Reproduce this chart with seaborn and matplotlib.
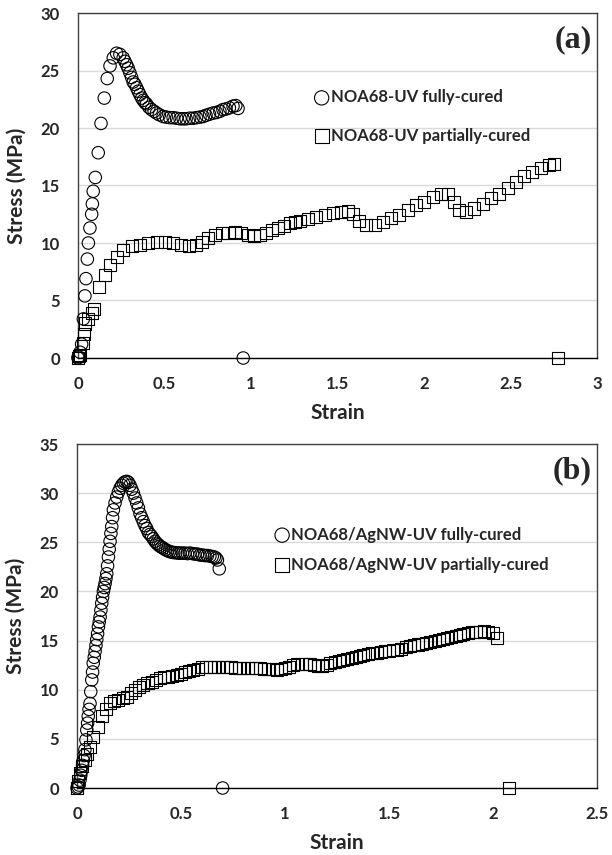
import numpy as np
import pandas as pd
import seaborn as sns
import matplotlib.pyplot as plt

# panel (a): NOA68-UV
a_full_strain = [0.0, 0.002, 0.012, 0.021, 0.031, 0.040, 0.046, 0.054, 0.060, 0.069, 0.079, 0.083,
                 0.088, 0.100, 0.117, 0.133, 0.152, 0.169, 0.185, 0.204, 0.223, 0.242, 0.261, 0.271,
                 0.281, 0.290, 0.300, 0.310, 0.319, 0.329, 0.339, 0.348, 0.358, 0.368, 0.377, 0.387,
                 0.396, 0.410, 0.425, 0.440, 0.454, 0.470, 0.492, 0.510, 0.530, 0.550, 0.570, 0.590,
                 0.608, 0.625, 0.645, 0.665, 0.685, 0.705, 0.723, 0.740, 0.760, 0.781, 0.800, 0.820,
                 0.838, 0.855, 0.875, 0.896, 0.912, 0.925, 0.955]
a_full_stress = [0.0, 0.1, 0.5, 1.2, 3.4, 5.4, 6.9, 8.6, 10.0, 11.3, 12.5, 13.4,
                 14.5, 15.7, 17.85, 20.4, 22.6, 24.3, 25.4, 26.1, 26.5, 26.4, 26.1, 25.8,
                 25.5, 25.2, 24.8, 24.4, 24.0, 23.8, 23.5, 23.2, 22.9, 22.6, 22.4, 22.2,
                 22.1, 21.8, 21.6, 21.45, 21.3, 21.15, 21.0, 20.95, 20.9, 20.9, 20.85, 20.8,
                 20.8, 20.8, 20.85, 20.85, 20.9, 20.95, 21.0, 21.1, 21.2, 21.3, 21.35, 21.45,
                 21.6, 21.65, 21.75, 21.9, 21.95, 21.7, 0.0]

a_part_strain = [0.0, 0.005, 0.012, 0.027, 0.035, 0.040, 0.060, 0.079, 0.092, 0.123, 0.156, 0.185,
                 0.223, 0.262, 0.310, 0.358, 0.406, 0.454, 0.502, 0.550, 0.598, 0.640, 0.680, 0.715,
                 0.750, 0.790, 0.830, 0.870, 0.910, 0.945, 0.980, 1.015, 1.050, 1.085, 1.120, 1.155,
                 1.190, 1.225, 1.255, 1.281, 1.330, 1.377, 1.425, 1.473, 1.520, 1.560, 1.589, 1.627,
                 1.666, 1.714, 1.762, 1.810, 1.858, 1.906, 1.954, 2.000, 2.050, 2.100, 2.137, 2.175,
                 2.204, 2.243, 2.290, 2.339, 2.387, 2.435, 2.483, 2.531, 2.579, 2.627, 2.675, 2.723,
                 2.750, 2.773]
a_part_stress = [0.0, 0.2, 0.3, 1.3, 2.1, 3.0, 3.4, 3.9, 4.3, 6.2, 7.2, 8.1,
                 8.8, 9.4, 9.7, 9.8, 10.0, 10.1, 10.05, 10.0, 9.8, 9.75, 9.85, 10.1,
                 10.4, 10.7, 10.85, 10.9, 10.95, 10.9, 10.7, 10.6, 10.7, 10.9, 11.1, 11.3,
                 11.5, 11.7, 11.8, 11.9, 12.1, 12.3, 12.45, 12.6, 12.7, 12.75, 12.5, 11.9,
                 11.6, 11.6, 11.85, 12.15, 12.4, 12.9, 13.3, 13.6, 14.0, 14.3, 14.3, 13.6,
                 12.9, 12.7, 13.0, 13.4, 13.9, 14.3, 14.75, 15.3, 15.8, 16.2, 16.5, 16.8,
                 16.9, 0.0]

# panel (b): NOA68/AgNW-UV
b_full_strain = [0.0, 0.006, 0.010, 0.014, 0.018, 0.023, 0.027, 0.030, 0.034, 0.038, 0.043, 0.047,
                 0.051, 0.054, 0.058, 0.0625, 0.066, 0.071, 0.075, 0.078, 0.083, 0.087, 0.091, 0.095,
                 0.099, 0.103, 0.107, 0.111, 0.115, 0.119, 0.123, 0.127, 0.131, 0.135, 0.139, 0.143,
                 0.147, 0.151, 0.155, 0.159, 0.163, 0.167, 0.171, 0.175, 0.183, 0.191, 0.199, 0.207,
                 0.215, 0.223, 0.231, 0.239, 0.247, 0.255, 0.263, 0.271, 0.279, 0.287, 0.295, 0.303,
                 0.311, 0.319, 0.327, 0.335, 0.343, 0.351, 0.359, 0.367, 0.375, 0.383, 0.391, 0.399,
                 0.407, 0.415, 0.425, 0.435, 0.445, 0.455, 0.465, 0.475, 0.485, 0.495, 0.507, 0.519,
                 0.531, 0.543, 0.555, 0.567, 0.579, 0.591, 0.603, 0.615, 0.627, 0.639, 0.650, 0.660,
                 0.668, 0.675, 0.684, 0.700]
b_full_stress = [0.0, 0.1, 0.3, 0.8, 1.3, 1.8, 2.3, 2.8, 3.3, 3.9, 4.9, 5.9,
                 6.6, 7.3, 8.0, 8.6, 9.8, 11.0, 11.8, 12.7, 13.3, 13.9, 14.5, 15.1,
                 15.7, 16.4, 16.9, 17.4, 18.1, 18.8, 19.4, 20.0, 20.4, 20.8, 21.3, 21.8,
                 22.6, 23.5, 24.3, 25.1, 25.9, 26.6, 27.5, 28.3, 29.0, 29.6, 30.1, 30.5,
                 30.8, 31.0, 31.15, 31.2, 31.1, 30.8, 30.4, 30.0, 29.5, 29.0, 28.5, 27.9,
                 27.5, 27.1, 26.7, 26.4, 26.0, 25.8, 25.6, 25.35, 25.1, 24.9, 24.75, 24.6,
                 24.5, 24.4, 24.25, 24.15, 24.05, 24.0, 23.95, 23.95, 23.9, 23.9, 23.9, 23.9,
                 23.85, 23.9, 23.85, 23.8, 23.8, 23.7, 23.7, 23.65, 23.65, 23.6, 23.55, 23.5,
                 23.4, 23.2, 22.3, 0.0]

b_part_strain = [0.0, 0.006, 0.014, 0.025, 0.038, 0.050, 0.0625, 0.078, 0.100, 0.119, 0.140, 0.159,
                 0.180, 0.199, 0.219, 0.239, 0.259, 0.279, 0.299, 0.319, 0.339, 0.359, 0.379, 0.399,
                 0.419, 0.439, 0.459, 0.479, 0.499, 0.519, 0.539, 0.559, 0.580, 0.600, 0.620, 0.640,
                 0.660, 0.680, 0.700, 0.720, 0.740, 0.760, 0.780, 0.800, 0.820, 0.840, 0.860, 0.880,
                 0.900, 0.920, 0.940, 0.960, 0.980, 1.000, 1.020, 1.040, 1.060, 1.080, 1.100, 1.120,
                 1.140, 1.160, 1.180, 1.200, 1.216, 1.240, 1.260, 1.280, 1.300, 1.320, 1.340, 1.360,
                 1.377, 1.400, 1.420, 1.440, 1.460, 1.480, 1.500, 1.520, 1.537, 1.560, 1.580, 1.600,
                 1.620, 1.640, 1.660, 1.680, 1.697, 1.720, 1.740, 1.760, 1.780, 1.800, 1.820, 1.840,
                 1.857, 1.880, 1.900, 1.920, 1.937, 1.957, 1.977, 1.998, 2.018, 2.075]
b_part_stress = [0.0, 0.7, 1.5, 2.2, 2.8, 3.5, 4.2, 5.2, 6.2, 7.3, 8.0, 8.6,
                 8.9, 9.0, 9.2, 9.3, 9.7, 10.0, 10.3, 10.5, 10.65, 10.8, 11.0, 11.2,
                 11.25, 11.3, 11.4, 11.5, 11.6, 11.8, 11.9, 12.0, 12.15, 12.3, 12.3, 12.3,
                 12.3, 12.3, 12.3, 12.3, 12.3, 12.25, 12.25, 12.2, 12.2, 12.2, 12.2, 12.2,
                 12.15, 12.15, 12.1, 12.0, 12.1, 12.2, 12.35, 12.5, 12.6, 12.65, 12.65, 12.6,
                 12.5, 12.45, 12.45, 12.55, 12.7, 12.85, 12.95, 13.05, 13.15, 13.25, 13.35, 13.45,
                 13.5, 13.6, 13.7, 13.75, 13.8, 13.9, 13.95, 14.0, 14.05, 14.15, 14.3, 14.4,
                 14.5, 14.6, 14.7, 14.8, 14.9, 15.0, 15.1, 15.2, 15.3, 15.4, 15.5, 15.6,
                 15.7, 15.8, 15.85, 15.9, 15.9, 15.95, 15.9, 15.8, 15.3, 0.0]

labels_a = ["NOA68-UV fully-cured", "NOA68-UV partially-cured"]
labels_b = ["NOA68/AgNW-UV fully-cured", "NOA68/AgNW-UV partially-cured"]

sns.set_style("white")
plt.rcParams['font.family'] = ['Lato', 'DejaVu Sans']

fig = plt.figure(figsize=(6.12, 8.55), dpi=100)
ax1 = fig.add_axes([78/612, 1-358/855, 519/612, 345/855])
ax2 = fig.add_axes([77/612, 1-788/855, 520/612, 344/855])


def draw_panel(ax, full_x, full_y, part_x, part_y, labels, xmax, ymax, xstep, tag, leg_pos, leg_space):
    df_full = pd.DataFrame({'Strain': full_x, 'Stress': full_y})
    df_part = pd.DataFrame({'Strain': part_x, 'Stress': part_y})
    sns.scatterplot(data=df_full, x='Strain', y='Stress', ax=ax, marker='o', s=80,
                    facecolor='none', edgecolor='black', linewidth=0.8, label=labels[0],
                    clip_on=False, zorder=3)
    sns.scatterplot(data=df_part, x='Strain', y='Stress', ax=ax, marker='s', s=75,
                    facecolor='none', edgecolor='black', linewidth=0.8, label=labels[1],
                    clip_on=False, zorder=3)
    ax.set_xlim(0, xmax)
    ax.set_ylim(0, ymax)
    ticks = np.arange(0, xmax + 0.01, xstep)
    ax.set_xticks(ticks)
    ax.set_yticks(np.arange(0, ymax + 0.1, 5))
    ax.set_xticklabels([f"{v:g}" for v in ticks])
    ax.yaxis.grid(True, color='#d9d9d9', linewidth=1)
    ax.set_axisbelow(True)
    for s in ax.spines.values():
        s.set_color('#404040')
        s.set_linewidth(1)
    ax.spines['bottom'].set_color('black')
    ax.tick_params(length=0, labelsize=12, pad=13)
    for t in ax.get_xticklabels() + ax.get_yticklabels():
        t.set_fontweight('bold')
    ax.set_xlabel('Strain', fontsize=15, fontweight='bold', labelpad=8)
    ax.set_ylabel('Stress (MPa)', fontsize=15, fontweight='bold', labelpad=10)
    ax.text(0.99, 0.965, tag, transform=ax.transAxes, ha='right', va='top',
            fontsize=23, fontweight='bold', family='Liberation Serif')
    ax.legend(loc='center left', bbox_to_anchor=leg_pos, frameon=False, markerscale=1.15,
              handlelength=0.9, handletextpad=0.1, borderpad=0, borderaxespad=0,
              labelspacing=leg_space, prop={'weight': 'bold', 'size': 12})


draw_panel(ax1, a_full_strain, a_full_stress, a_part_strain, a_part_stress, labels_a,
           3, 30, 0.5, '(a)', (0.455, 0.70), 1.35)
draw_panel(ax2, b_full_strain, b_full_stress, b_part_strain, b_part_stress, labels_b,
           2.5, 35, 0.5, '(b)', (0.38, 0.693), 0.85)

fig.align_ylabels([ax1, ax2])
fig.savefig('out.png', dpi=100)
